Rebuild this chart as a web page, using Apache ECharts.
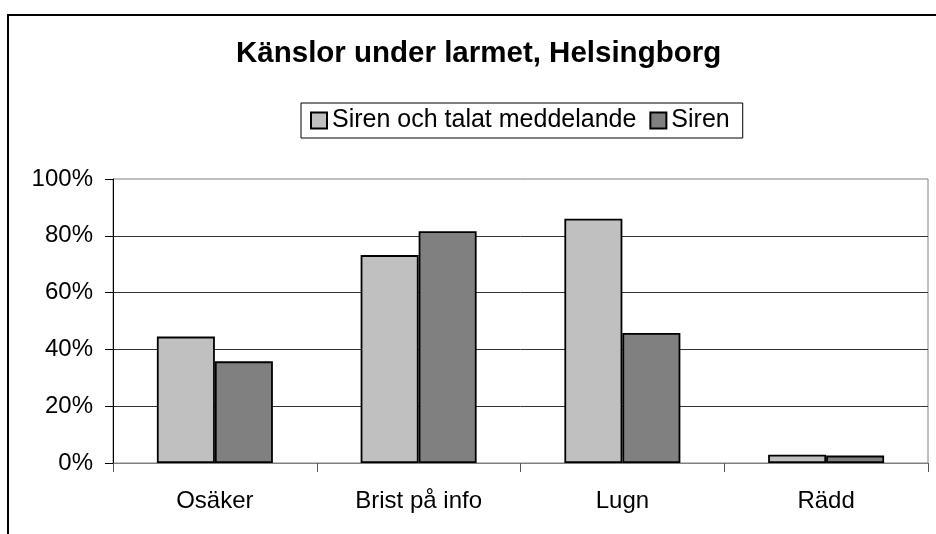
<!DOCTYPE html>
<html>
<head>
<meta charset="utf-8">
<script src="https://cdn.jsdelivr.net/npm/echarts@6/dist/echarts.min.js"></script>
<style>
  html, body { margin: 0; padding: 0; background: #fff; }
  #chart { width: 936px; height: 534px; }
</style>
</head>
<body>
<div id="chart"></div>
<script>
  const categories = ['Osäker', 'Brist på info', 'Lugn', 'Rädd'];
  const sirenTal = [44.5, 73.2, 86.0, 2.9];   // Siren och talat meddelande
  const siren = [35.8, 81.6, 45.8, 2.6];      // Siren
  const yTicks = [0, 20, 40, 60, 80, 100];

  const font = '"Liberation Sans", Arial, sans-serif';

  var myChart = echarts.init(document.getElementById('chart'));

  var option = {
    animation: false,
    backgroundColor: '#fff',
    title: {
      text: 'Känslor under larmet, Helsingborg',
      left: 236,
      top: 39,
      padding: 0,
      textStyle: { fontFamily: font, fontSize: 29.5, fontWeight: 'bold', color: '#000' }
    },
    legend: {
      left: 301,
      top: 103,
      padding: [5, 13, 5, 9],
      borderColor: '#000',
      borderWidth: 1,
      icon: 'rect',
      itemWidth: 16,
      itemHeight: 16,
      itemGap: 13,
      textStyle: { fontFamily: font, fontSize: 25, color: '#000' },
      data: ['Siren och talat meddelande', 'Siren']
    },
    graphic: [{
      // outer chart border (cut off at right and bottom)
      type: 'rect',
      shape: { x: 8, y: 15, width: 1000, height: 1000 },
      style: { fill: null, stroke: '#000', lineWidth: 2 },
      silent: true
    }],
    grid: {
      left: 113,
      right: 8,
      top: 179,
      bottom: 71,
      show: true,
      borderColor: '#808080',
      borderWidth: 1,
      backgroundColor: '#fff'
    },
    xAxis: {
      type: 'category',
      data: categories,
      axisLine: { lineStyle: { color: '#808080', width: 1 } },
      axisTick: { show: true, length: 9, lineStyle: { color: '#555' } },
      axisLabel: { margin: 26, fontFamily: font, fontSize: 24, color: '#000' }
    },
    yAxis: {
      type: 'value',
      min: yTicks[0],
      max: yTicks[yTicks.length - 1],
      interval: 20,
      axisLine: { show: true, lineStyle: { color: '#000', width: 1 } },
      axisTick: { show: true, length: 8, lineStyle: { color: '#000' } },
      axisLabel: {
        margin: 20,
        fontFamily: font,
        fontSize: 24,
        color: '#000',
        formatter: '{value}%'
      },
      splitLine: { show: true, showMaxLine: false, lineStyle: { color: '#333', width: 1 } }
    },
    series: [
      {
        name: 'Siren och talat meddelande',
        type: 'bar',
        data: sirenTal,
        barWidth: 58,
        barGap: '0%',
        itemStyle: { color: '#C0C0C0', borderColor: '#000', borderWidth: 1.8 }
      },
      {
        name: 'Siren',
        type: 'bar',
        data: siren,
        barWidth: 58,
        barGap: '0%',
        itemStyle: { color: '#808080', borderColor: '#000', borderWidth: 1.8 }
      }
    ]
  };

  myChart.setOption(option);
</script>
</body>
</html>
